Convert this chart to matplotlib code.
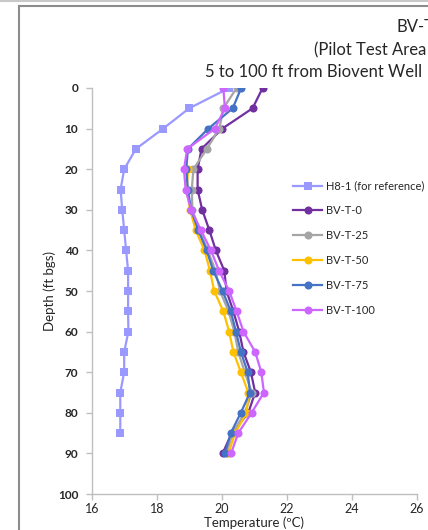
import numpy as np
import matplotlib
matplotlib.use("Agg")
import matplotlib.pyplot as plt
from matplotlib.lines import Line2D

plt.rcParams['font.family'] = ['Lato', 'DejaVu Sans']

# ---- data ----
depth_bv = [0, 5, 10, 15, 20, 25, 30, 35, 40, 45, 50, 55, 60, 65, 70, 75, 80, 85, 90]
depth_h8 = [0, 5, 10, 15, 20, 25, 30, 35, 40, 45, 50, 55, 60, 65, 70, 75, 80, 85]

h8_1 = [20.22, 18.99, 18.19, 17.35, 16.99, 16.88, 16.93, 16.99, 17.05, 17.11,
        17.11, 17.11, 17.12, 16.99, 16.99, 16.87, 16.87, 16.87]
bvt_0 = [21.25, 20.94, 20.01, 19.37, 19.25, 19.25, 19.39, 19.61, 19.81, 20.07,
         20.14, 20.35, 20.53, 20.66, 20.89, 21.02, 20.81, 20.30, 20.02]
bvt_25 = [20.45, 20.04, 19.92, 19.53, 19.12, 19.07, 19.09, 19.30, 19.56, 19.80,
          19.94, 20.20, 20.38, 20.50, 20.70, 20.92, 20.70, 20.33, 20.14]
bvt_50 = [np.nan, np.nan, np.nan, np.nan, 18.96, 18.91, 19.02, 19.19, 19.46, 19.63,
          19.76, 20.04, 20.22, 20.35, 20.58, 20.81, 20.76, 20.40, 20.20]
bvt_75 = [20.59, 20.33, 19.58, 18.95, 18.90, 18.95, 19.05, 19.27, 19.53, 19.73,
          20.02, 20.27, 20.43, 20.58, 20.79, 20.86, 20.58, 20.27, 20.09]
bvt_100 = [20.04, 20.09, 19.78, 18.93, 18.83, 18.88, 19.05, 19.35, 19.66, 19.91,
           20.22, 20.45, 20.66, 21.02, 21.21, 21.29, 20.91, 20.50, 20.28]

series = [
    ("H8-1 (for reference)", depth_h8, h8_1, "#9999FF", "s"),
    ("BV-T-0", depth_bv, bvt_0, "#7030A0", "o"),
    ("BV-T-25", depth_bv, bvt_25, "#A5A5A5", "o"),
    ("BV-T-50", depth_bv, bvt_50, "#FFC000", "o"),
    ("BV-T-75", depth_bv, bvt_75, "#4472C4", "o"),
    ("BV-T-100", depth_bv, bvt_100, "#CC66FF", "o"),
]

W, H = 428, 530
fig = plt.figure(figsize=(W / 100, H / 100), dpi=100)

def fx(px):
    return px / W

def fy(py):
    return 1 - py / H

ax = fig.add_axes([fx(92), fy(494), fx(417) - fx(92), fy(88) - fy(494)])

handles = []
for name, d, t, c, m in series:
    ln, = ax.plot(t, d, color=c, marker=m, markersize=5.8, linewidth=1.6,
                  markeredgewidth=0, label=name)
    handles.append(ln)

ax.set_xlim(16, 26)
ax.set_ylim(100, 0)
ax.set_xticks([16, 18, 20, 22, 24, 26])
ax.set_yticks(range(0, 101, 10))
for s in ['top', 'right']:
    ax.spines[s].set_visible(False)
for s in ['left', 'bottom']:
    ax.spines[s].set_color('#BFBFBF')
    ax.spines[s].set_linewidth(1.0)
ax.tick_params(axis='both', colors='#BFBFBF', labelcolor='#262626', length=4, width=1.0)
ax.tick_params(axis='x', labelsize=9, pad=2.5)
ax.tick_params(axis='y', labelsize=8.5, pad=6)
for lab in ax.get_yticklabels():
    lab.set_fontweight('bold')

fig.text(fx(254), fy(523), "Temperature (\u00baC)", ha='center', va='center',
         fontsize=9.5, color='#262626')
fig.text(fx(50), fy(291), "Depth (ft bgs)", ha='center', va='center',
         rotation=90, fontsize=9.5, color='#262626')

# title (the reference shows it at the right edge)
fig.text(fx(396), fy(27), "BV-T", ha='left', va='center',
         fontsize=12, color='#262626')
fig.text(fx(314), fy(50), "(Pilot Test Area", ha='left', va='center',
         fontsize=12, color='#262626')
fig.text(fx(205), fy(72), "5 to 100 ft from Biovent Well", ha='left', va='center',
         fontsize=12, color='#262626')

leg = fig.legend(handles=handles, loc='upper left',
                 bbox_to_anchor=(fx(289), fy(176)), frameon=False,
                 fontsize=8, handlelength=2.6, handletextpad=0.3,
                 labelspacing=1.25, borderaxespad=0)
for t in leg.get_texts():
    t.set_color('#262626')

# chart frame lines
fig.add_artist(Line2D([0, 1], [fy(0.5), fy(0.5)], transform=fig.transFigure,
                      color='#C8C8C8', linewidth=1.5))
fig.add_artist(Line2D([fx(19), 1], [fy(5.5), fy(5.5)], transform=fig.transFigure,
                      color='#8C8C8C', linewidth=1.5))
fig.add_artist(Line2D([fx(19), fx(19)], [0, fy(5.5)], transform=fig.transFigure,
                      color='#8C8C8C', linewidth=1.5))

fig.savefig("out.png", dpi=100)
